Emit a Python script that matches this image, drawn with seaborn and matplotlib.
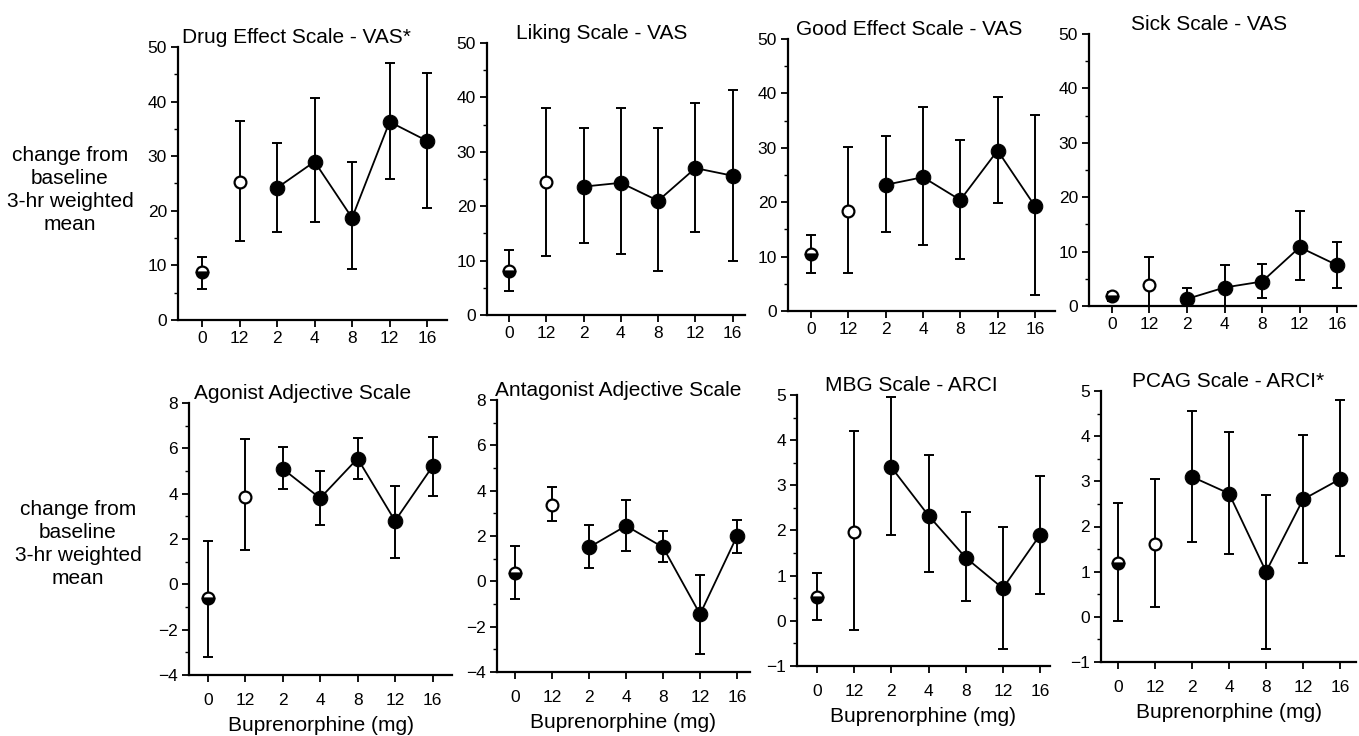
import seaborn as sns
import matplotlib.pyplot as plt
import pandas as pd
import numpy as np

# font sizes
fs = 12.5
fs_big = 15

doses = ["0", "12", "2", "4", "8", "12", "16"]
groups = ["placebo", "open", "active", "active", "active", "active", "active"]

titles = ["Drug Effect Scale - VAS*", "Liking Scale - VAS", "Good Effect Scale - VAS", "Sick Scale - VAS",
          "Agonist Adjective Scale", "Antagonist Adjective Scale", "MBG Scale - ARCI", "PCAG Scale - ARCI*"]

# mean, lower and upper end of error bar, per panel
drug_mean = [8.7, 25.3, 24.2, 29.0, 18.7, 36.3, 32.8]
drug_lo = [5.7, 14.5, 16.1, 17.9, 9.3, 25.8, 20.5]
drug_hi = [11.6, 36.4, 32.5, 40.7, 28.9, 47.0, 45.2]

liking_mean = [8.0, 24.4, 23.6, 24.3, 21.0, 27.0, 25.6]
liking_lo = [4.4, 10.8, 13.3, 11.3, 8.0, 15.2, 10.0]
liking_hi = [12.0, 38.0, 34.3, 38.0, 34.3, 39.0, 41.3]

good_mean = [10.5, 18.3, 23.2, 24.6, 20.4, 29.5, 19.3]
good_lo = [7.0, 7.0, 14.5, 12.2, 9.6, 19.8, 2.9]
good_hi = [14.0, 30.2, 32.2, 37.5, 31.5, 39.4, 36.0]

sick_mean = [1.8, 3.8, 1.3, 3.4, 4.5, 10.8, 7.5]
sick_lo = [1.0, 0.0, 0.0, 0.0, 1.4, 4.8, 3.3]
sick_hi = [2.6, 9.0, 3.4, 7.6, 7.7, 17.5, 11.7]

agon_mean = [-0.6, 3.85, 5.1, 3.8, 5.55, 2.8, 5.2]
agon_lo = [-3.2, 1.5, 4.2, 2.6, 4.65, 1.15, 3.9]
agon_hi = [1.9, 6.4, 6.05, 5.0, 6.45, 4.35, 6.5]

antag_mean = [0.35, 3.35, 1.5, 2.45, 1.5, -1.45, 2.0]
antag_lo = [-0.8, 2.65, 0.6, 1.35, 0.85, -3.2, 1.25]
antag_hi = [1.55, 4.15, 2.5, 3.6, 2.2, 0.3, 2.7]

mbg_mean = [0.53, 1.97, 3.4, 2.33, 1.4, 0.72, 1.9]
mbg_lo = [0.02, -0.2, 1.9, 1.08, 0.45, -0.63, 0.6]
mbg_hi = [1.07, 4.2, 4.95, 3.67, 2.4, 2.08, 3.2]

pcag_mean = [1.2, 1.62, 3.1, 2.73, 1.0, 2.6, 3.05]
pcag_lo = [-0.1, 0.22, 1.65, 1.4, -0.72, 1.2, 1.35]
pcag_hi = [2.52, 3.05, 4.55, 4.1, 2.7, 4.02, 4.8]

panel_data = [(drug_mean, drug_lo, drug_hi), (liking_mean, liking_lo, liking_hi),
              (good_mean, good_lo, good_hi), (sick_mean, sick_lo, sick_hi),
              (agon_mean, agon_lo, agon_hi), (antag_mean, antag_lo, antag_hi),
              (mbg_mean, mbg_lo, mbg_hi), (pcag_mean, pcag_lo, pcag_hi)]

ylims = [(0, 50)] * 4 + [(-4, 8), (-4, 8), (-1, 5), (-1, 5)]
yticks = [np.arange(0, 51, 10)] * 4 + [np.arange(-4, 9, 2)] * 2 + [np.arange(-1, 6, 1)] * 2
yminor = [np.arange(5, 50, 10)] * 4 + [np.arange(-3, 8, 2)] * 2 + [np.arange(-0.5, 5, 1)] * 2

# axes boxes in pixels: left, right, top, bottom
boxes = [(178, 447, 47, 320), (487, 745, 43, 315), (788, 1055, 39, 311), (1089, 1356, 34, 306),
         (189, 452, 403, 675), (497, 750, 400, 672), (797, 1050, 395, 666), (1101, 1356, 391, 662)]
xlims = [(-0.64, 6.53), (-0.59, 6.33), (-0.62, 6.54), (-0.61, 6.5),
         (-0.5, 6.52), (-0.49, 6.35), (-0.54, 6.27), (-0.46, 6.43)]
title_x = [0.44, 0.446, 0.453, 0.45, 0.43, 0.48, 0.45, 0.5]

sns.set_style('ticks')
plt.rcParams['font.family'] = ['Liberation Sans', 'DejaVu Sans']
plt.rcParams['text.color'] = 'black'
plt.rcParams['xtick.color'] = 'black'
plt.rcParams['ytick.color'] = 'black'
plt.rcParams['axes.labelcolor'] = 'black'
W, H = 1359, 736
fig = plt.figure(figsize=[W / 100, H / 100], dpi=100)

for k in range(8):
    mean, lo, hi = panel_data[k]
    df = pd.DataFrame({'pos': np.arange(7), 'dose': doses, 'group': groups,
                       'mean': mean, 'lo': lo, 'hi': hi})
    l, r, t, b = boxes[k]
    ax = fig.add_axes([l / W, 1 - b / H, (r - l) / W, (b - t) / H])

    ax.errorbar(df['pos'], df['mean'], yerr=[df['mean'] - df['lo'], df['hi'] - df['mean']],
                fmt='none', ecolor='black', elinewidth=1.4, capsize=3.5, capthick=1.4, zorder=2)
    act = df[df['group'] == 'active']
    sns.lineplot(data=act, x='pos', y='mean', ax=ax, color='black', linewidth=1.3,
                 marker='o', markersize=10.5, markerfacecolor='black', markeredgecolor='black', zorder=3)
    opn = df[df['group'] == 'open']
    ax.plot(opn['pos'], opn['mean'], 'o', markersize=8.5, markerfacecolor='white',
            markeredgecolor='black', markeredgewidth=1.6, zorder=4)
    plc = df[df['group'] == 'placebo']
    ax.plot(plc['pos'], plc['mean'], 'o', markersize=8.5, fillstyle='bottom', markerfacecolor='black',
            markerfacecoloralt='white', markeredgecolor='black', markeredgewidth=1.6, zorder=4)

    ax.set_xlim(*xlims[k])
    ax.set_ylim(*ylims[k])
    ax.set_xticks(np.arange(7))
    ax.set_xticklabels(doses, fontsize=fs)
    ax.set_yticks(yticks[k])
    ax.set_yticks(yminor[k], minor=True)
    ax.set_yticklabels([str(v).replace('-', '\u2212') for v in yticks[k]], fontsize=fs)
    ax.tick_params(axis='both', which='major', length=5, width=1.3, pad=3)
    ax.tick_params(axis='y', which='minor', length=3, width=1.0)
    if k >= 4:
        ax.tick_params(axis='x', pad=8)
    for s in ['left', 'bottom']:
        ax.spines[s].set_linewidth(1.6)
        ax.spines[s].set_color('black')
    sns.despine(ax=ax)
    ax.set_xlabel('Buprenorphine (mg)' if k >= 4 else '', fontsize=fs_big, labelpad=6)
    ax.set_ylabel('')
    ax.set_title(titles[k], fontsize=fs_big, pad=2, x=title_x[k])

for xc, yc in [(70, 190), (78, 544)]:
    fig.text(xc / W, 1 - yc / H, 'change from\nbaseline\n3-hr weighted\nmean', ha='center', va='center',
             fontsize=fs_big, linespacing=1.26)

plt.savefig('out.png', dpi=100)
plt.close()
